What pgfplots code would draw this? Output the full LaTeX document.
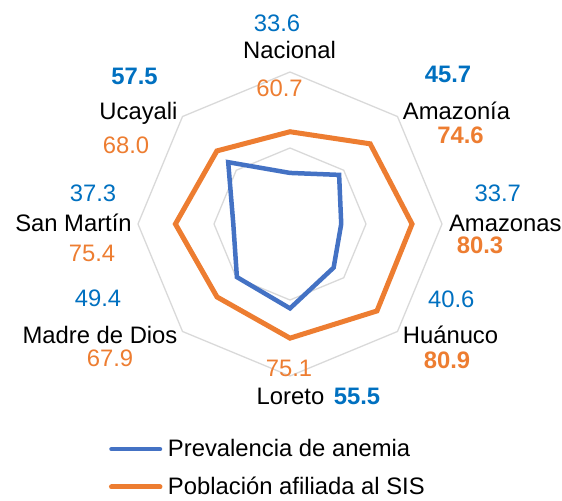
\documentclass[border=0pt]{standalone}
\usepackage{fontspec}
\setmainfont{Liberation Sans}
\usepackage{pgfplots}
\pgfplotsset{compat=1.18}
\usepgfplotslibrary{polar}
\definecolor{serA}{HTML}{4472C4}
\definecolor{serB}{HTML}{ED7D31}
\definecolor{lblA}{HTML}{0070C0}
\definecolor{lblB}{HTML}{ED7D31}
\definecolor{gridc}{HTML}{D9D9D9}
\begin{document}
\begin{tikzpicture}[font=\fontsize{23.9}{28}\selectfont]
\path[use as bounding box] (0,0) rectangle (562bp,501bp);
\begin{polaraxis}[
  at={(290bp,277bp)}, anchor=center,
  scale only axis, width=304bp, height=304bp,
  xmin=0, xmax=360, ymin=0, ymax=100,
  hide axis, clip=false,
  legend cell align=left,
  legend image code/.code={\draw[#1, line cap=round] (0bp,0bp) -- (48.5bp,0bp);},
  legend style={
    at={(axis description cs:-0.0954,-0.2095)}, anchor=north west,
    draw=none, fill=none, inner sep=0pt, outer sep=0pt,
    row sep=19bp, column sep=5.5bp,
    nodes={inner sep=0pt, text=black},
    font=\fontsize{23.9}{28}\selectfont,
  },
]
\addplot[gridc, line width=1.3bp, line join=miter, forget plot] coordinates {(90,50) (45,50) (0,50) (315,50) (270,50) (225,50) (180,50) (135,50)} -- cycle;
\addplot[gridc, line width=1.3bp, line join=miter, forget plot] coordinates {(90,100) (45,100) (0,100) (315,100) (270,100) (225,100) (180,100) (135,100)} -- cycle;
\addplot[serA, line width=4.5bp, line join=miter, no markers] coordinates {(90,33.6) (45,45.7) (0,33.7) (315,40.6) (270,55.5) (225,49.4) (180,37.3) (135,57.5)} -- cycle;
\addlegendentry{Prevalencia de anemia}
\addplot[serB, line width=5bp, line join=miter, no markers] coordinates {(90,60.7) (45,74.6) (0,80.3) (315,80.9) (270,75.1) (225,67.9) (180,75.4) (135,68.0)} -- cycle;
\addlegendentry{Población afiliada al SIS}
\end{polaraxis}
\begin{scope}[every node/.style={inner sep=0pt, anchor=base}]
% Nacional
\node[text=lblA] at (277bp,469bp) {33.6};
\node at (289.5bp,442.5bp) {Nacional};
\node[text=lblB] at (279.5bp,404.3bp) {60.7};
% Ucayali
\node[text=lblA, font=\fontsize{23.9}{28}\selectfont\bfseries] at (134.5bp,416bp) {57.5};
\node at (138.5bp,381.7bp) {Ucayali};
\node[text=lblB] at (126bp,347bp) {68.0};
% Amazonia
\node[text=lblA, font=\fontsize{23.9}{28}\selectfont\bfseries] at (448bp,418.3bp) {45.7};
\node at (456.5bp,381.7bp) {Amazonía};
\node[text=lblB, font=\fontsize{23.9}{28}\selectfont\bfseries] at (460.5bp,357bp) {74.6};
% Amazonas
\node[text=lblA] at (497.7bp,299.3bp) {33.7};
\node at (505.3bp,269.3bp) {Amazonas};
\node[text=lblB, font=\fontsize{23.9}{28}\selectfont\bfseries] at (480bp,247.7bp) {80.3};
% San Martin
\node[text=lblA] at (93bp,299.3bp) {37.3};
\node at (73.5bp,269.3bp) {San Martín};
\node[text=lblB] at (92bp,239.3bp) {75.4};
% Madre de Dios
\node[text=lblA] at (98bp,194.3bp) {49.4};
\node at (100bp,157.7bp) {Madre de Dios};
\node[text=lblB] at (110bp,134.3bp) {67.9};
% Huanuco
\node[text=lblA] at (451.3bp,193.3bp) {40.6};
\node at (450.5bp,157.7bp) {Huánuco};
\node[text=lblB, font=\fontsize{23.9}{28}\selectfont\bfseries] at (447bp,132bp) {80.9};
% Loreto
\node[text=lblB] at (289bp,124.3bp) {75.1};
\node at (290.5bp,96.7bp) {Loreto};
\node[text=lblA, font=\fontsize{23.9}{28}\selectfont\bfseries] at (357bp,96.7bp) {55.5};
\end{scope}
\end{tikzpicture}
\end{document}
